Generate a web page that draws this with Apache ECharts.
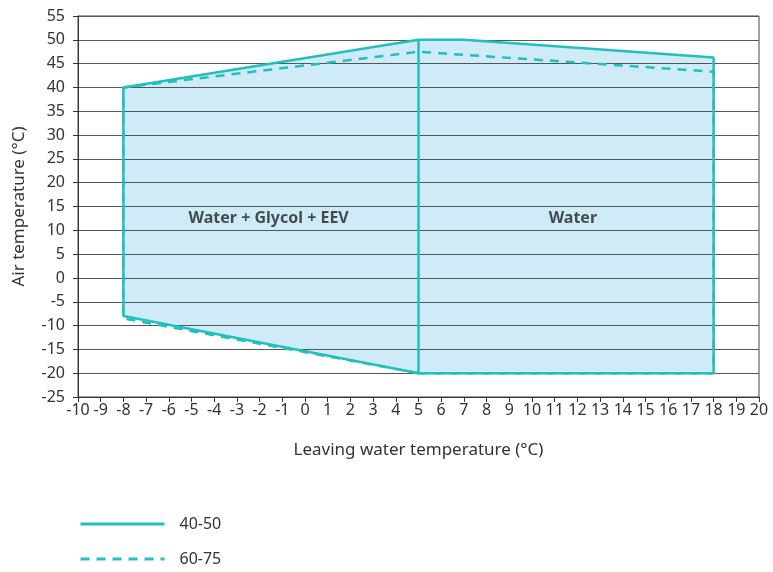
<!DOCTYPE html>
<html>
<head>
<meta charset="utf-8">
<script src="https://cdn.jsdelivr.net/npm/echarts@6/dist/echarts.min.js"></script>
<style>html,body{margin:0;padding:0;background:#fff;}#c{width:773px;height:572px;}</style>
</head>
<body>
<div id="c"></div>
<script>
// Data
const envelopeFill = [[-8, -8], [-8, 40], [5, 50], [7, 50], [18, 46.3], [18, -20], [5, -20]];
const line4050 = [[5, -20], [-8, -8], [-8, 40], [5, 50], [5, -20], [18, -20], [18, 46.3], [7, 50], [5, 50]];
const line6075 = [[5, -20], [-8, -8.5], [-8, 40], [5, 47.5], [18, 43.3], [18, -20], [5, -20]];
const regionLabels = [{ name: 'Water + Glycol + EEV', value: [-1.6, 12.5] }, { name: 'Water', value: [11.8, 12.5] }];
const seriesNames = ['40-50', '60-75'];

const FONT = 'Noto Sans';
const TEAL = '#22bfbf';

const chart = echarts.init(document.getElementById('c'), null, { renderer: 'canvas' });
chart.setOption({
  animation: false,
  textStyle: { fontFamily: FONT },
  grid: { left: 78, right: 14, top: 16, bottom: 175, show: true, borderColor: '#444', borderWidth: 1 },
  xAxis: {
    type: 'value', min: -10, max: 20, interval: 1,
    name: 'Leaving water temperature (°C)', nameLocation: 'middle', nameGap: 45,
    nameTextStyle: { fontSize: 17, color: '#333', fontFamily: FONT },
    axisLine: { onZero: false, lineStyle: { color: '#333' } },
    axisTick: { show: true, length: 5, lineStyle: { color: '#333' } },
    axisLabel: { fontSize: 16, color: '#333', margin: 5, fontFamily: FONT },
    splitLine: { show: false }
  },
  yAxis: {
    type: 'value', min: -25, max: 55, interval: 5,
    name: 'Air temperature (°C)', nameLocation: 'middle', nameGap: 50,
    nameTextStyle: { fontSize: 17, color: '#333', fontFamily: FONT },
    axisLine: { show: true, onZero: false, lineStyle: { color: '#333' } },
    axisTick: { show: true, length: 5, lineStyle: { color: '#333' } },
    axisLabel: { fontSize: 16, color: '#333', margin: 13, fontFamily: FONT },
    splitLine: { show: true, lineStyle: { color: '#555', width: 1 } }
  },
  legend: {
    orient: 'vertical', left: 79, top: 516, padding: 0,
    itemWidth: 84, itemHeight: 14, itemGap: 19,
    data: seriesNames,
    itemStyle: { opacity: 0 },
    lineStyle: { width: 3 },
    textStyle: { fontSize: 16, color: '#333', fontFamily: FONT, padding: [0, 0, 0, 10] }
  },
  series: [
    {
      type: 'custom', z: -1, silent: true,
      data: [0],
      renderItem: function (params, api) {
        const pts = envelopeFill.map(p => api.coord(p));
        return { type: 'polygon', shape: { points: pts }, style: { fill: '#d0ebf8' } };
      }
    },
    {
      name: seriesNames[0], type: 'line', data: line4050, symbol: 'none',
      lineStyle: { color: TEAL, width: 2.5 }, itemStyle: { color: TEAL }, z: 3
    },
    {
      name: seriesNames[1], type: 'line', data: line6075, symbol: 'none',
      lineStyle: { color: TEAL, width: 2.5, type: [9, 7] }, itemStyle: { color: TEAL }, z: 4
    },
    {
      type: 'scatter', data: regionLabels, symbolSize: 0, silent: true, z: 5,
      label: {
        show: true, position: 'inside', formatter: '{b}',
        fontSize: 16, fontWeight: 'bold', color: '#222', fontFamily: FONT
      }
    }
  ]
});
</script>
</body>
</html>
